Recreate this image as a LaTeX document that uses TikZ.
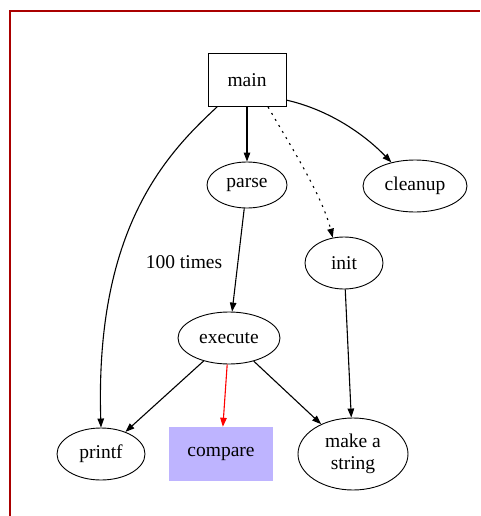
\documentclass[tikz,border=0pt]{standalone}
\usepackage{fontspec}
\setmainfont{Liberation Serif}
\usetikzlibrary{arrows.meta,shapes.geometric}
\definecolor{framecol}{RGB}{170,0,0}
\definecolor{cmp}{RGB}{190,180,255}
\begin{document}
\begin{tikzpicture}[x=1pt,y=-1pt,
  every node/.style={font=\fontsize{19.5}{22}\selectfont, inner sep=0pt},
  ell/.style={draw, ellipse, line width=0.9pt},
  boxnode/.style={draw, rectangle, line width=0.9pt},
  edge/.style={line width=1.1pt, -{Triangle[length=9pt,width=6.5pt]}},
  dotedge/.style={edge, dash pattern=on 2pt off 5pt},
]
\useasboundingbox (0,0) rectangle (480,516);
\draw[line width=2.5pt, framecol] (10,516) -- (10,11) -- (480,11);

\node[boxnode, minimum width=78pt, minimum height=53pt] (main) at (247,80) {main};
\node[ell, minimum width=80pt, minimum height=46pt] (parse) at (247,185) {parse};
\node[ell, minimum width=104pt, minimum height=52pt] (cleanup) at (415,186) {cleanup};
\node[ell, minimum width=78pt, minimum height=52pt] (init) at (344,263) {init};
\node[ell, minimum width=102pt, minimum height=52pt] (execute) at (229,338) {execute};
\node[ell, minimum width=88pt, minimum height=52pt] (printf) at (101,454) {printf};
\node[fill=cmp, minimum width=104pt, minimum height=54pt] (compare) at (221,454) {compare};
\node[ell, minimum width=110pt, minimum height=72pt, align=center] (make) at (353,454) {make a\\string};
\node (lbl) at (184,262) {100 times};

\draw[edge] (main) -- (parse);
\draw[edge] (main.222) .. controls (165,155) and (95,230) .. (printf.north);
\draw[edge] (main.333) .. controls (330,110) and (365,135) .. (cleanup.135);
\draw[dotedge] (main.308) .. controls (290,145) and (322,195) .. (init.114);
\draw[edge] (parse) -- (execute);
\draw[edge] (execute) -- (printf);
\draw[edge, red] (execute) -- (compare);
\draw[edge] (execute) -- (make);
\draw[edge] (init) -- (make);
\end{tikzpicture}
\end{document}
